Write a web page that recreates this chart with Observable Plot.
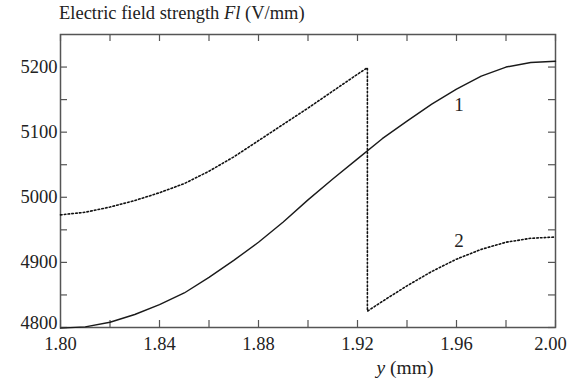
<!DOCTYPE html>
<html>
<head>
<meta charset="utf-8">
<script src="https://cdn.jsdelivr.net/npm/d3@7"></script>
<script src="https://cdn.jsdelivr.net/npm/@observablehq/plot@0.6"></script>
<style>
  html, body { margin: 0; padding: 0; background: #fff; }
  #chart { width: 567px; height: 380px; }
  #chart svg, #chart svg text, #chart svg tspan { font-family: "Liberation Serif", "DejaVu Serif", serif !important; }
</style>
</head>
<body>
<div id="chart"></div>
<script>
// Curve 1 (solid)
const x1 = [1.80, 1.81, 1.82, 1.83, 1.84, 1.85, 1.86, 1.87, 1.88, 1.89, 1.90, 1.91, 1.92, 1.93, 1.94, 1.95, 1.96, 1.97, 1.98, 1.99, 2.00];
const y1 = [4799, 4801, 4808, 4820, 4835, 4853, 4877, 4903, 4931, 4962, 4996, 5028, 5059, 5090, 5117, 5143, 5166, 5186, 5200, 5207, 5209];
// Curve 2 (dotted, with jump at y = 1.924 mm)
const x2 = [1.80, 1.81, 1.82, 1.83, 1.84, 1.85, 1.86, 1.87, 1.88, 1.89, 1.90, 1.91, 1.92, 1.924, 1.924, 1.93, 1.94, 1.95, 1.96, 1.97, 1.98, 1.99, 2.00];
const y2 = [4973, 4977, 4985, 4995, 5007, 5021, 5040, 5062, 5087, 5112, 5137, 5163, 5189, 5199, 4825, 4840, 4864, 4886, 4905, 4920, 4931, 4937, 4939];
// Curve labels
const labelText = ["1", "2"];
const labelX = [1.961, 1.961];
const labelY = [5142, 4933];
// Ticks
const xLabelTicks = [1.80, 1.84, 1.88, 1.92, 1.96];
const xLastTick = [2.00];
const xMinorTicks = [1.82, 1.86, 1.90, 1.94, 1.98];
const yLabelTicks = [4900, 5000, 5100, 5200];
const yFirstTick = [4800];
const yMinorTicks = [4850, 4950, 5050, 5150];
const titleParts = ["Electric field strength ", "Fl", " (V/mm)"];
const xTitleParts = ["y", " (mm)"];

const W = 567, H = 380, mL = 60, mR = 12, mT = 34, mB = 53;
const fw = W - mL - mR, fh = H - mT - mB, tk = 7;
const FONT = "Liberation Serif";

const line1 = x1.map((x, i) => ({x, y: y1[i]}));
const line2 = x2.map((x, i) => ({x, y: y2[i]}));
const labels = labelText.map((t, i) => ({t, x: labelX[i], y: labelY[i]}));
const allX = xLabelTicks.concat(xLastTick, xMinorTicks);
const allY = yFirstTick.concat(yLabelTicks, yMinorTicks);

const plot = Plot.plot({
  width: W, height: H,
  marginLeft: mL, marginRight: mR, marginTop: mT, marginBottom: mB,
  style: {fontFamily: FONT, fontSize: "18.5px", color: "#222", background: "#fff"},
  x: {domain: [1.80, 2.00]},
  y: {domain: [4800, 5250]},
  marks: [
    Plot.tickY(allY, {y: d => d, insetRight: fw - tk, stroke: "#555", strokeWidth: 1.2}),
    Plot.tickY(allY, {y: d => d, insetLeft: fw - tk, stroke: "#555", strokeWidth: 1.2}),
    Plot.tickX(allX, {x: d => d, insetTop: fh - tk, stroke: "#555", strokeWidth: 1.2}),
    Plot.tickX(allX, {x: d => d, insetBottom: fh - tk, stroke: "#555", strokeWidth: 1.2}),
    Plot.axisY({ticks: yLabelTicks, tickSize: 0, tickPadding: 3, label: null, tickFormat: d => String(d), fill: "#222"}),
    Plot.axisY({ticks: yFirstTick, tickSize: 0, tickPadding: 3, dy: -4, label: null, tickFormat: d => String(d), fill: "#222"}),
    Plot.axisX({ticks: xLabelTicks, tickSize: 0, tickPadding: 9, label: null, tickFormat: d => d.toFixed(2), fill: "#222"}),
    Plot.axisX({ticks: xLastTick, tickSize: 0, tickPadding: 9, dx: -5, label: null, tickFormat: d => d.toFixed(2), fill: "#222"}),
    Plot.frame({stroke: "#555", strokeWidth: 1.5}),
    Plot.line(line1, {x: "x", y: "y", stroke: "#1a1a1a", strokeWidth: 1.4}),
    Plot.line(line2, {x: "x", y: "y", stroke: "#111", strokeWidth: 1.6, strokeDasharray: "1.6,2.2"}),
    Plot.text(labels, {x: "x", y: "y", text: "t", fill: "#222", fontSize: 19})
  ]
});

const svg = d3.select(plot);
svg.attr("font-family", FONT);
const title = svg.append("text")
  .attr("x", 59).attr("y", 19)
  .attr("text-anchor", "start")
  .attr("font-size", 18.5).attr("fill", "#222");
titleParts.forEach((p, i) => title.append("tspan").attr("font-style", i === 1 ? "italic" : null).text(p));
const xt = svg.append("text")
  .attr("x", 405).attr("y", 374)
  .attr("text-anchor", "middle")
  .attr("font-size", 19.5).attr("fill", "#222");
xTitleParts.forEach((p, i) => xt.append("tspan").attr("font-style", i === 0 ? "italic" : null).text(p));
svg.selectAll("text").attr("font-family", FONT);

document.getElementById("chart").appendChild(plot);
</script>
</body>
</html>
